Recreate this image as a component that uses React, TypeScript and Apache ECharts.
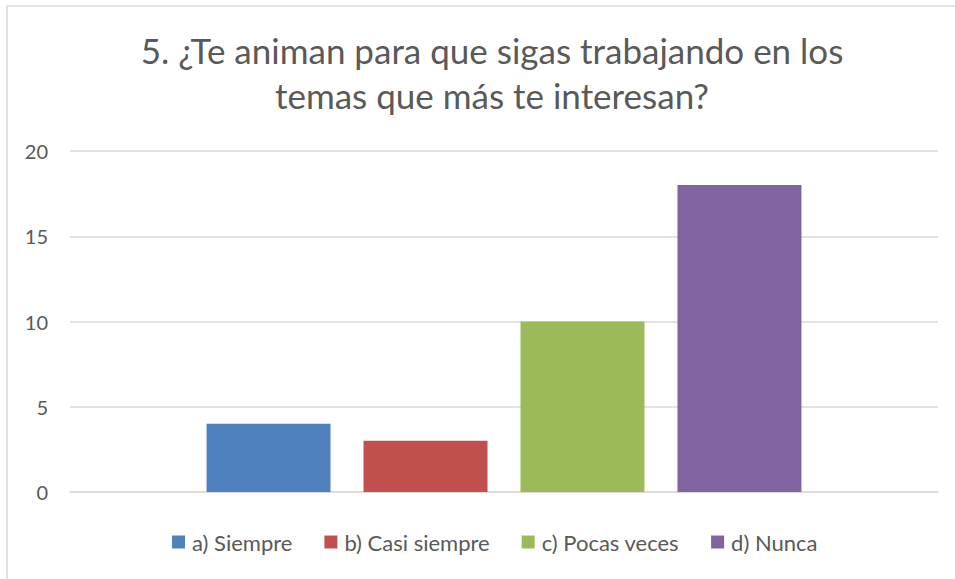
import React, { useEffect, useRef } from "react";
import * as echarts from "echarts";

const titleText = "5. ¿Te animan para que sigas trabajando en los\ntemas que más te interesan?";
const seriesNames = ["a) Siempre", "b) Casi siempre", "c) Pocas veces", "d) Nunca"];
const seriesValues = [4, 3, 10, 18];
const seriesColors = ["#4F81BD", "#C0504D", "#9BBB59", "#8064A2"];
const yTicks = [0, 5, 10, 15, 20];

const FONT = "Lato, 'Noto Sans', sans-serif";

export default function App() {
  const ref = useRef<HTMLDivElement>(null);
  useEffect(() => {
    document.body.style.margin = "0";
    const chart = echarts.init(ref.current!, undefined, { renderer: "svg" });
    chart.setOption({
      animation: false,
      backgroundColor: "#ffffff",
      textStyle: { fontFamily: FONT },
      title: {
        text: titleText,
        left: 487,
        top: 22,
        textAlign: "center",
        textStyle: {
          fontFamily: FONT,
          fontSize: 35,
          fontWeight: "normal",
          color: "#595959",
          lineHeight: 45,
        },
      },
      legend: {
        bottom: 21,
        left: 167,
        itemWidth: 13,
        itemHeight: 13,
        itemGap: 32,
        icon: "rect",
        data: seriesNames,
        textStyle: { fontFamily: FONT, fontSize: 22, color: "#595959", padding: [0, 0, 0, 2] },
      },
      grid: { left: 70, right: 17, top: 151, bottom: 87, containLabel: false },
      xAxis: {
        type: "category",
        data: [""],
        axisLine: { show: true, lineStyle: { color: "#D9D9D9", width: 1.5 } },
        axisTick: { show: false },
        axisLabel: { show: false },
      },
      yAxis: {
        type: "value",
        min: yTicks[0],
        max: yTicks[yTicks.length - 1],
        interval: 5,
        axisLine: { show: false },
        axisTick: { show: false },
        axisLabel: { color: "#595959", fontSize: 20, fontFamily: FONT, margin: 22 },
        splitLine: { lineStyle: { color: "#D9D9D9", width: 1.5 } },
      },
      series: seriesNames.map((name, i) => ({
        name,
        type: "bar",
        data: [seriesValues[i]],
        barWidth: 124,
        barGap: "26.6%",
        itemStyle: { color: seriesColors[i] },
      })),
      graphic: [
        { type: "line", shape: { x1: 7, y1: 6, x2: 7, y2: 579 }, style: { stroke: "#D9D9D9", lineWidth: 1.5 } },
        { type: "line", shape: { x1: 7, y1: 6, x2: 955, y2: 6 }, style: { stroke: "#D9D9D9", lineWidth: 1.5 } },
      ],
    });
    return () => chart.dispose();
  }, []);
  return <div ref={ref} style={{ width: 955, height: 579 }} />;
}
